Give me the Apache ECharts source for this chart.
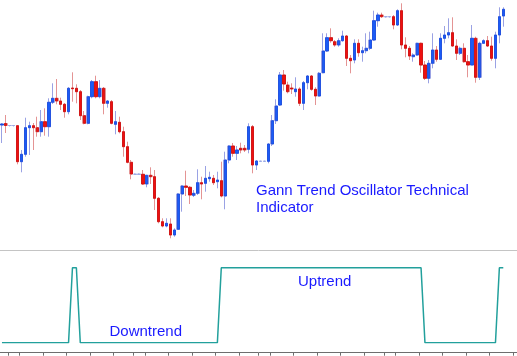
<!DOCTYPE html>
<html><head><meta charset="utf-8">
<script src="https://cdn.jsdelivr.net/npm/echarts@6/dist/echarts.min.js"></script>
<style>html,body{margin:0;padding:0;background:#fff}#c{width:517px;height:356px}</style>
</head><body><div id="c"></div>
<script>
// Price bars (arbitrary price units)
const opens = [125,126.5,124.5,124.5,124.3,88.3,95.7,122.3,124.3,122.3,118.3,128.3,123.3,147.7,151.7,149,145.7,138.3,162,161.7,
158.3,134.3,126.7,153.3,168.3,153.3,161.7,146.7,148.3,125.7,127.7,118.3,103.3,87.7,75.7,75.7,75.7,66,74.7,73.3,
51.7,28.3,24,26,15,20.7,56,64,62.7,54.7,56.7,67.3,66.7,71.3,71.7,68.3,69.3,54,90,104,
96.7,101.7,101.7,100.7,123.3,85,88.7,88.7,88.7,106,129.3,145,175,165,162,158.3,161,146.7,167.3,174,
160.7,154,177.3,199,212.3,208.3,205,209.3,214,191.7,190,206.7,197.3,199.3,201.7,210,229.3,235,233.3,233.3,
233.3,225,239.3,205,201.7,193.3,195,206.7,185,171.7,186.7,200,190.7,211.7,215,217.3,204,196.7,201.7,188.3,
185,211.7,172.7,206.7,209.3,204,191.7,215,234];
const closes = [126,124.5,124.5,124.5,88.3,95.7,122.3,124.3,122.3,118.3,128.3,123.3,147.7,151.7,149,145.7,138.3,161.7,161.3,158.3,
134.3,126.7,153.3,168.3,153.3,161.7,146.7,149,126.7,128.3,118.3,103.3,87.7,76,75.7,75.7,66,74.7,73.3,51.7,
28.3,24,26.7,15,20,56,64,62.7,55,56.7,67.3,66,71.7,72.7,67.3,70,54,90,104,96.7,
100,100,100,123.3,85,89,88.7,88.7,106,129.3,144,175,166,158.3,161,161,146.7,167.3,174,160.7,
154,176.7,199,212.3,209.3,205,209.3,214,191.7,189.3,206.7,197.3,199.3,201.7,210,229.3,235,233.3,233.3,233.3,
225,239.3,205,201.7,194,195,206.7,185,171.7,186.7,200,190.7,211.7,215,217.3,204,196.7,201.7,188.3,185,
211.7,172.7,206.7,209.3,204,191.7,215,233.3,240.7];
const lows = [107,117,123.5,123.5,85.7,77.7,93.3,95,100,113.3,113.3,114.3,113.3,146,145.7,140,132.3,135.7,148.3,146.7,
130,125.7,125.7,151.7,151.7,151.7,135.7,142.3,125.7,115.7,116.7,93.3,86.7,70.7,75,75,65,62.7,66,40,
26.7,22.7,22.7,11.7,13.3,20,38.3,54,46,53,55,50.7,58.3,68.3,65,61.7,52.7,40.7,86.7,93.3,
90,96.7,98,96.7,76.7,80,88,88,86.7,104,126,144,159.3,156.7,156,153.3,144,140,160.7,159.3,
145,153.3,176.7,198,207.3,203.3,203.3,208.3,184,176.7,186.7,193.3,188.3,196.7,200,209.3,223.3,232,232.5,232.5,
220.7,224,200.7,192.7,190,188.3,194,177.3,170,166.7,181.7,188.3,190,206.7,211.7,203.3,190,195,187.3,172.7,
185,167.3,170,206,203,189.3,181.7,206.7,223.3];
const highs = [127,135,125,125,125,100,132.3,128.3,127,133.3,140,141.7,151.7,166.7,171,152.3,147,163,177.7,165.7,
160,139,154.3,170,174.3,170,163,150,150,139,133.3,123.3,108.3,90,76.5,76.5,80,75,82.7,80,
53,31.7,31.7,31.7,21.7,57,65,79.3,64,60,80.7,73.3,84,78.3,75,78.3,88.3,98.3,105,107,
104,107.3,105,126.7,125,90,89.2,89.2,106.7,135,150.7,178,180,168.3,166.7,172.7,162.7,169,175,175,
162.7,178,216.7,216.7,221.7,210,211.7,219.3,215,195,210.7,210.7,203.3,216.7,218.3,239.3,237.3,237.3,234,234,
235,240.7,246.7,212.7,204,196.7,207.3,207.3,189,190,216.7,204,216.7,224,231.7,232.7,210.7,203.3,206.7,195,
225,213.3,208.3,210.7,214,213.3,218.3,242.7,242.7];
// Gann trend oscillator state per bar: 1 = uptrend, -1 = downtrend
const gannTrend = [
-1,-1,-1,-1,-1,-1,-1,-1,-1,-1,-1,-1,-1,-1,-1,-1,-1,-1,
1,1,
-1,-1,-1,-1,-1,-1,-1,-1,-1,-1,-1,-1,-1,-1,-1,-1,-1,-1,-1,-1,-1,-1,-1,-1,-1,-1,-1,-1,-1,-1,-1,-1,-1,-1,-1,-1,
1,1,1,1,1,1,1,1,1,1,1,1,1,1,1,1,1,1,1,1,1,1,1,1,1,1,1,1,1,1,1,1,1,1,1,1,1,1,1,1,1,1,1,1,1,1,1,1,1,1,1,1,
-1,-1,-1,-1,-1,-1,-1,-1,-1,-1,-1,-1,-1,-1,-1,-1,-1,-1,-1,
1,1];
const barCount = 132;
const categories = Array.from({length: barCount}, (_, i) => String(i + 1));
const tickBars = [2,5,11,17,23,29,34,37,43,49,55,61,66,69,75,81,87,93,98,101,107,113,119,125,131];
const titleLines = ['Gann Trend Oscillator Technical', 'Indicator'];
const trendLabels = ['Downtrend', 'Uptrend'];

const wickData = opens.map((o, i) => [o, closes[i], lows[i], highs[i]]);
const bodyData = opens.map((o, i) => [o, closes[i], Math.min(o, closes[i]), Math.max(o, closes[i])]);

const FONT = '15px "Liberation Sans", Arial, sans-serif';
const TXT = '#1a1aff';
const chart = echarts.init(document.getElementById('c'), null, {renderer: 'canvas'});
chart.setOption({
  animation: false,
  backgroundColor: '#ffffff',
  grid: [
    {left: 0, top: 0, width: 518.5, height: 250},
    {left: 0, top: 267.7, width: 518.5, height: 75}
  ],
  xAxis: [
    {type: 'category', gridIndex: 0, data: categories, boundaryGap: true,
     axisLine: {onZero: false, lineStyle: {color: '#c4c4c4', width: 1}}, axisTick: {show: false}, axisLabel: {show: false}, splitLine: {show: false}},
    {type: 'category', gridIndex: 1, data: categories, boundaryGap: true, offset: 10,
     axisLine: {onZero: false, lineStyle: {color: '#6e6e6e', width: 1}},
     axisTick: {show: true, length: 3, interval: (idx) => tickBars.includes(idx), lineStyle: {color: '#6e6e6e'}},
     axisLabel: {show: false}, splitLine: {show: false}}
  ],
  yAxis: [
    {type: 'value', gridIndex: 0, min: 0, max: 250, show: false, splitLine: {show: false}},
    {type: 'value', gridIndex: 1, min: -1, max: 1, show: false, splitLine: {show: false}}
  ],
  series: [
    {type: 'candlestick', xAxisIndex: 0, yAxisIndex: 0, data: wickData, barWidth: 3, silent: true,
     itemStyle: {color: '#aab2ec', color0: '#eeaaaa', borderColor: '#9aa2e4', borderColor0: '#e49494', borderColorDoji: '#a4b0e6', borderWidth: 1}},
    {type: 'candlestick', xAxisIndex: 0, yAxisIndex: 0, data: bodyData, barWidth: 2.6, silent: true,
     itemStyle: {color: '#1a5cf6', color0: '#ee1010', borderColor: '#1648dc', borderColor0: '#cc0a0a', borderColorDoji: '#9aaae6', borderWidth: 0.8}},
    {type: 'line', xAxisIndex: 1, yAxisIndex: 1, data: gannTrend, symbol: 'none', silent: true,
     lineStyle: {color: '#22a09c', width: 1.5}}
  ],
  graphic: [
    {type: 'text', x: 256, y: 190.5, style: {text: titleLines[0], font: FONT, fill: TXT, verticalAlign: 'middle'}},
    {type: 'text', x: 256, y: 208, style: {text: titleLines[1], font: FONT, fill: TXT, verticalAlign: 'middle'}},
    {type: 'text', x: 109.5, y: 332.3, style: {text: trendLabels[0], font: FONT, fill: TXT, verticalAlign: 'middle'}},
    {type: 'text', x: 298, y: 281.5, style: {text: trendLabels[1], font: FONT, fill: TXT, verticalAlign: 'middle'}}
  ]
});
</script></body></html>
